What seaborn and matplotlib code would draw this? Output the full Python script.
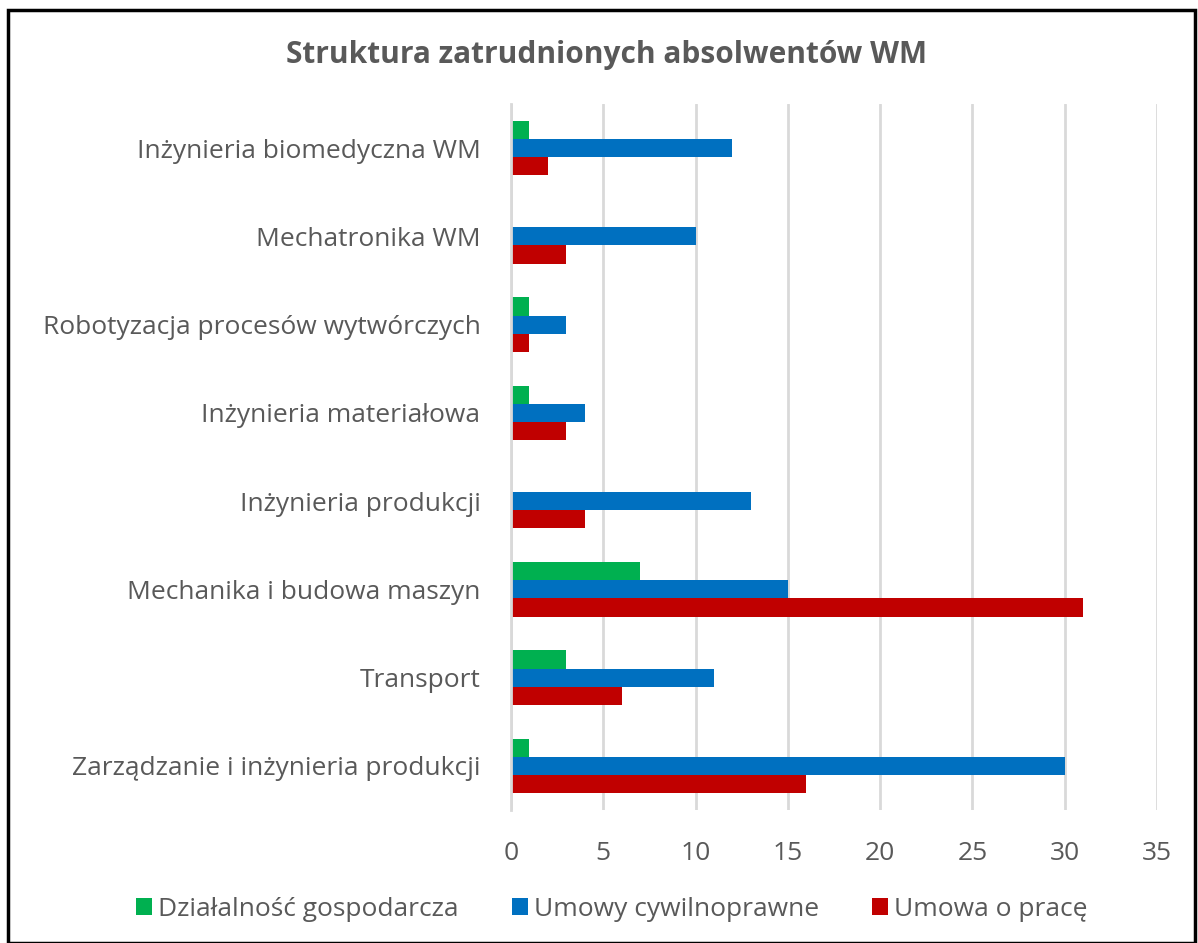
import matplotlib
matplotlib.use("Agg")
import matplotlib.pyplot as plt
import seaborn as sns
import pandas as pd
from matplotlib.patches import Rectangle, Patch

categories = [
    "Inżynieria biomedyczna WM",
    "Mechatronika WM",
    "Robotyzacja procesów wytwórczych",
    "Inżynieria materiałowa",
    "Inżynieria produkcji",
    "Mechanika i budowa maszyn",
    "Transport",
    "Zarządzanie i inżynieria produkcji",
]
dzialalnosc = [1, 0, 1, 1, 0, 7, 3, 1]
cywilnoprawne = [12, 10, 3, 4, 13, 15, 11, 30]
umowa_o_prace = [2, 3, 1, 3, 4, 31, 6, 16]
series_names = ["Działalność gospodarcza", "Umowy cywilnoprawne", "Umowa o pracę"]
colors = ["#00B050", "#0070C0", "#C00000"]
x_ticks = [0, 5, 10, 15, 20, 25, 30, 35]

rows = []
for name, vals in zip(series_names, [dzialalnosc, cywilnoprawne, umowa_o_prace]):
    for c, v in zip(categories, vals):
        rows.append({"kategoria": c, "wartosc": v, "seria": name})
df = pd.DataFrame(rows)

sns.set_theme(style="white")
plt.rcParams["font.family"] = ["Open Sans", "DejaVu Sans"]

fig = plt.figure(figsize=(11.98, 9.43), dpi=100)
ax = fig.add_axes([511/1198, 1 - 810/943, (1157-511)/1198, (810-104)/943])

sns.barplot(data=df, y="kategoria", x="wartosc", hue="seria", order=categories,
            hue_order=series_names, palette=colors, orient="h", width=0.62,
            saturation=1, ax=ax, legend=False, edgecolor="none")

ax.set_xlim(0, 35)
ax.set_xticks(x_ticks)
ax.xaxis.grid(True, color="#d9d9d9", linewidth=2)
ax.set_axisbelow(True)
for s in ["top", "right", "bottom"]:
    ax.spines[s].set_visible(False)
ax.spines["left"].set_color("#d9d9d9")
ax.spines["left"].set_linewidth(2)
ax.set_xlabel("")
ax.set_ylabel("")
ax.tick_params(axis="both", length=0, labelsize=19, labelcolor="#595959")
ax.tick_params(axis="y", pad=22)
ax.tick_params(axis="x", pad=22)

fig.text(606/1198, 1 - 55/943, "Struktura zatrudnionych absolwentów WM",
         ha="center", va="center", fontsize=21.5, fontweight="bold", color="#595959")

handles = [Patch(facecolor=c, edgecolor="none") for c in colors]
fig.legend(handles, series_names, loc="center", bbox_to_anchor=(612/1198, 1 - 909/943),
           ncol=3, frameon=False, fontsize=19, labelcolor="#595959",
           handlelength=0.6, handleheight=0.6, handletextpad=0.25, columnspacing=2.0)

fig.patches.append(Rectangle((8/1198, 0), (1195-8)/1198, 1 - 10/943, transform=fig.transFigure,
                             fill=False, edgecolor="black", linewidth=2.5))

fig.savefig("out.png", dpi=100)
